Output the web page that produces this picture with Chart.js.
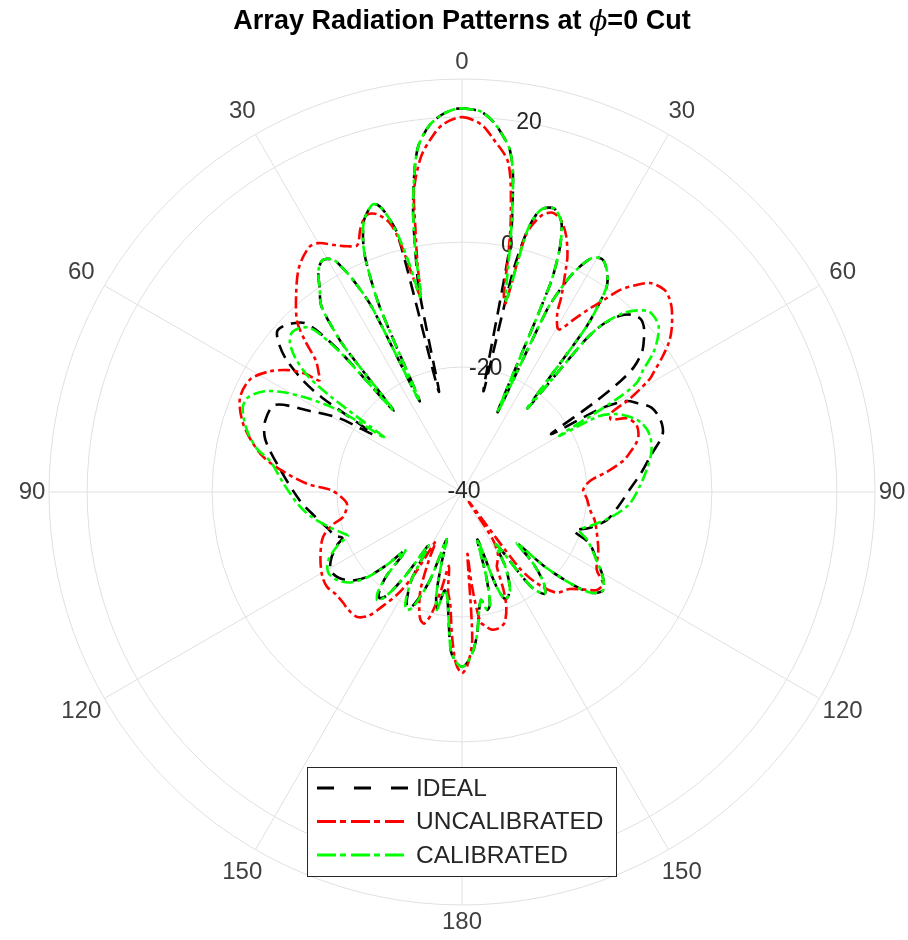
<!DOCTYPE html>
<html><head><meta charset="utf-8">
<script src="https://cdn.jsdelivr.net/npm/chart.js@4.4.1/dist/chart.umd.min.js"></script>
<style>html,body{margin:0;padding:0;background:#fff;}#wrap{width:908px;height:940px;}</style>
</head><body><div id="wrap"><canvas id="c" width="908" height="940"></canvas></div>
<script>
// ---- data (angles in degrees, clockwise from top; values in dB) ----
const titleParts = ['Array Radiation Patterns at ', '\u03D5', '=0 Cut'];
const thetaTickLabels = ['0','30','60','90','120','150','180','150','120','90','60','30'];
const rTickValues = [-40, -20, 0, 20];
const rMin = -40, rMax = 26.1;
const seriesNames = ['IDEAL', 'UNCALIBRATED', 'CALIBRATED'];

const calAngles = [-178,-176,-174,-172,-170,-168,-166,-164,-162,-160,-157,-155,-153,-150,-148,-146,-144,-142,-140,-138,-136,-134,-132,-129,-125,-121,-117,-113,-111,-109,-105,-99,-94,-87,-81,-78,-74,-69,-66,-63,-61,-59,-57,-56,-55,-54,-53,-51,-49,-47,-45,-43,-42,-41,-40,-39,-38,-37,-35,-33,-31,-29,-28,-27,-26,-25,-24,-23,-22,-20,-18,-17,-16,-15,-14,-13,-12,-11,-10,-9,-8,-7,-5,-3,-1,0,1,3,5,7,8,9,10,11,12,13,14,15,16,18,20,21,22,23,24,25,26,27,29,31,33,35,36,37,38,39,40,42,44,46,48,50,52,54,56,58,59,60,61,63,66,69,73,78,83,88,94,99,104,108,111,117,121,125,128,130,132,133,135,138,141,144,147,150,154,158,160,162,164,166,168,170,172,174,176,178,180];
const calDb = [-12.8,-14.5,-19.5,-23,-24,-20.7,-23,-28,-32,-25,-20,-19.2,-20,-24,-30,-24,-19.5,-18,-19,-22,-27,-23,-19.6,-17,-15.5,-15,-16,-18.5,-20.4,-19.8,-18.1,-15.4,-13.6,-11.3,-9,-6.4,-4.2,-2.4,-2.6,-4.5,-7,-10.5,-15,-19,-25,-14,-9,-5.5,-3.5,-2.7,-3,-4,-6,-11,-23,-10,-5.5,-2.5,-0.3,2.2,3.3,2.5,0.5,-2.5,-7,-24,-8,-2,2,6,7.8,8.2,7.5,5.5,2.4,-2.5,-8.3,-1,5,9.5,13.5,16.2,19,20.5,21.3,21.4,21.3,20.9,19.3,16.8,15.2,12,6.5,0.5,-5.5,-8.5,3,6,7.2,7.7,6.3,4.5,1.5,-4,-26,-8,-3.5,-0.5,2.8,3.5,2.5,0.5,-2.5,-7,-23,-9,-5,-1.5,0.4,1.6,1.6,1.1,-0.3,-2.2,-5,-7,-11,-22,-15,-12.5,-10.5,-9.2,-8.6,-9,-10.2,-11.5,-13.1,-15.5,-18.3,-20.2,-18.5,-15.8,-13.7,-12.5,-13.8,-17,-22,-28,-24,-20.5,-19,-21.5,-30,-26,-22.5,-21.5,-24,-32,-26,-21.5,-20.7,-22.5,-20.5,-17,-14.5,-12.8,-12];

const idealAngles = [-178,-176,-174,-172,-170,-168,-166,-164,-162,-160,-157,-155,-153,-150,-148,-146,-144,-142,-140,-138,-136,-134,-132,-129,-125,-121,-117,-113,-111,-109,-105,-99,-93,-83,-75,-70,-65,-62,-59,-57,-56,-55,-53,-51,-49,-47,-45,-43,-42,-41,-40,-39,-38,-37,-35,-33,-31,-29,-28,-27,-26,-25,-24,-23,-22,-20,-18,-17,-16,-15,-14,-13,-12,-11,-10,-9,-8,-7,-5,-3,-1,0,1,3,5,7,8,9,10,11,12,13,14,15,16,18,20,21,22,23,24,25,26,27,29,31,33,35,36,37,38,39,40,42,44,46,48,50,52,54,55,56,57,59,61,63,66,70,74,79,84,89,95,101,106,109,112,117,121,125,128,130,132,133,135,138,141,144,147,150,154,158,160,162,164,166,168,170,172,174,176,178,180];
const idealDb = [-12.8,-14.5,-19.5,-23,-24,-21,-23,-28,-32,-25,-20.5,-19.5,-20.5,-24,-30,-24,-19.5,-18.5,-19.5,-22,-27,-23,-19.8,-17.5,-16,-15.5,-16.5,-18.3,-19.5,-18.5,-17.7,-16,-14,-10.7,-7.4,-6.5,-7,-12.4,-17,-23,-13,-9,-4.8,-2.3,-0.8,-1,-1.8,-3,-5,-10,-23,-10,-5.5,-2.5,-0.3,2.2,3.3,2.5,0.5,-2.5,-7,-24,-8,-2,2,6,7.8,8.2,7.5,5.5,2.4,-23.5,-7,-1,5,9.5,13.5,16.2,19,20.5,21.3,21.4,21.3,20.9,19.3,16.8,15.2,12,6.5,0.5,-23.5,-4,3,6,7.2,7.7,6.3,4.5,1.5,-4,-26,-8,-3.5,-0.5,2.8,3.5,2.5,0.5,-2.5,-7,-23,-9,-5,-2,-0.6,-0.2,-0.8,-2,-3.4,-6,-9,-15,-23,-14,-10,-8.6,-6.8,-6.2,-6.6,-9.2,-11.2,-13.1,-14.8,-16.4,-19,-21,-18,-15.8,-13.7,-12.5,-13.8,-17,-22,-28,-24,-20.5,-19,-21.5,-30,-26,-22.5,-21.5,-24,-32,-26,-21.5,-20.7,-22.5,-20.5,-17,-14.5,-12.8,-12];

const uncalAngles = [-178,-176,-174,-172,-170,-168,-166,-164,-162,-160,-157,-154,-152,-150,-148,-145,-143,-140,-136,-133,-129,-125,-121,-115,-108,-104,-102,-96,-92,-89,-87,-83,-80,-76,-72,-67,-62,-58,-55,-53,-52,-50,-48,-46,-44,-40,-36,-32,-30,-27,-25,-23,-21,-19,-17,-15,-14,-13,-12,-11,-10,-9,-7,-5,-3,0,3,5,8,10,11,12,13,14,16,18,20,22,24,25,27,28,30,31,33,35,36,38,40,42,45,47,49,52,54,56,58,59,61,62,64,66,69,72,74,77,79,82,85,89,93,98,102,106,113,120,123,126,128,132,137,141,143,145,147,150,153,155,157,159,162,165,168,170,172,174,175,176,178,180];
const uncalDb = [-12.5,-17,-22,-24,-28,-24,-20,-18.1,-18.5,-20,-23,-28,-31,-25,-21,-17.5,-15.2,-13.9,-13.8,-14,-14,-13.6,-13.9,-15,-16.6,-18.8,-20.5,-21.5,-20.5,-18.9,-15.2,-10.7,-7.7,-5.1,-3,-1.4,-1.6,-3.6,-6,-8.5,-11,-10,-8.5,-5,-2,1.3,4.4,6.2,6,4.3,3.4,2.9,5.3,6.9,6.5,4.5,1.5,-4,-7.8,-2.5,3,9,14,16.8,18.9,20,18.9,16.8,13.2,5,-1,-7.8,-9,2.5,6,7,6.3,4.4,1.5,-0.7,-5,-7.5,-9.5,-9.7,-7,-4,-2.6,1,3.2,5,5.8,5.4,4.5,2.6,1,-1.3,-3.8,-5,-9.4,-12.8,-13.5,-11,-10.1,-10.3,-10.9,-12.5,-13.7,-16.5,-19.4,-20.6,-20,-19.3,-18.3,-17.6,-16.3,-15.1,-13.1,-13.3,-14.6,-16.8,-18,-21.5,-25,-38,-31,-28.5,-27.5,-26.8,-23,-20.2,-18,-17.4,-17.5,-18.2,-19,-25,-30,-16.5,-12.5,-11];

// ---- build the table the radar chart needs ----
const N = 360;
const angleLabels = Array.from({length: N}, (_, i) => String(i));
function toTable(angles, values) {
  const arr = new Array(N).fill(null);
  angles.forEach((a, i) => { arr[((Math.round(a) % 360) + 360) % 360] = Math.max(values[i], rMin); });
  return arr;
}

const styles = [
  {color: '#000000', dash: [14, 8], order: 3},
  {color: '#ff0000', dash: [12, 4, 4, 4], order: 2},
  {color: '#00ff00', dash: [12, 4, 4, 4], order: 1}
];
const tables = [toTable(idealAngles, idealDb), toTable(uncalAngles, uncalDb), toTable(calAngles, calDb)];

const FONT = '"Liberation Sans", Arial, Helvetica, sans-serif';
const TEXT = '#262626';

const decor = {
  id: 'decor',
  beforeDatasetsDraw(chart) {
    const s = chart.scales.r, ctx = chart.ctx;
    ctx.save();
    ctx.fillStyle = TEXT;
    ctx.font = '23px ' + FONT;
    ctx.textAlign = 'center';
    ctx.textBaseline = 'middle';
    const ra = 10 * Math.PI / 180;
    rTickValues.forEach(v => {
      const d = s.getDistanceFromCenterForValue(v);
      ctx.fillText(String(v), s.xCenter + d * Math.sin(ra) + 2, s.yCenter - d * Math.cos(ra));
    });
    ctx.fillStyle = '#404040';
    ctx.font = '24px ' + FONT;
    thetaTickLabels.forEach((lab, k) => {
      const idx = k * 30;
      const a = s.getIndexAngle(idx);
      const dist = s.drawingArea + 17 + 11 * Math.abs(Math.sin(2 * a));
      const p = s.getPointPosition(idx, dist);
      ctx.fillText(lab, p.x, p.y);
    });
    ctx.restore();
  },
  afterDraw(chart) {
    const ctx = chart.ctx;
    ctx.save();
    // title with italic phi
    const bold = 'bold 27px ' + FONT, ital = 'italic 27px "DejaVu Serif", "Liberation Serif", serif';
    ctx.font = bold; const w0 = ctx.measureText(titleParts[0]).width, w2 = ctx.measureText(titleParts[2]).width;
    ctx.font = ital; const w1 = ctx.measureText(titleParts[1]).width;
    let x = 462 - (w0 + w1 + w2) / 2;
    const ty = 22;
    ctx.fillStyle = '#000';
    ctx.textBaseline = 'middle'; ctx.textAlign = 'left';
    ctx.font = bold; ctx.fillText(titleParts[0], x, ty); x += w0;
    ctx.font = ital; ctx.fillText(titleParts[1], x, ty + 1); x += w1;
    ctx.font = bold; ctx.fillText(titleParts[2], x, ty);
    // legend
    const bx = 307.5, by = 767.5, bw = 309, bh = 109;
    ctx.fillStyle = '#fff'; ctx.fillRect(bx, by, bw, bh);
    ctx.strokeStyle = '#262626'; ctx.lineWidth = 1; ctx.setLineDash([]);
    ctx.strokeRect(bx, by, bw, bh);
    ctx.font = '24.5px ' + FONT; ctx.fillStyle = TEXT;
    seriesNames.forEach((name, i) => {
      const y = 788 + i * 33.5;
      ctx.strokeStyle = styles[i].color; ctx.lineWidth = 3;
      ctx.setLineDash(i === 0 ? [17, 20] : [19, 4, 6, 5]);
      ctx.beginPath(); ctx.moveTo(317, y); ctx.lineTo(408, y); ctx.stroke();
      ctx.setLineDash([]);
      ctx.fillText(name, 416, y + 1);
    });
    ctx.restore();
  }
};

new Chart(document.getElementById('c'), {
  type: 'radar',
  data: {
    labels: angleLabels,
    datasets: tables.map((t, i) => ({
      label: seriesNames[i], data: t,
      borderColor: styles[i].color, backgroundColor: 'rgba(0,0,0,0)',
      borderDash: styles[i].dash, borderWidth: 2.6, order: styles[i].order,
      pointRadius: 0, fill: false, spanGaps: true, tension: 0.3
    }))
  },
  options: {
    responsive: false, animation: false,
    layout: {padding: {left: 49, right: 33, top: 79, bottom: 35}},
    plugins: {legend: {display: false}, title: {display: false}, tooltip: {enabled: false}},
    scales: {
      r: {
        min: rMin, max: rMax,
        ticks: {display: false, stepSize: 20},
        grid: {circular: true, color: '#e0e0e0', lineWidth: 1},
        angleLines: {color: c => (c.index % 30 === 0 ? '#e0e0e0' : 'rgba(0,0,0,0)'), lineWidth: 1},
        pointLabels: {display: false}
      }
    }
  },
  plugins: [decor]
});
</script>
</body></html>
